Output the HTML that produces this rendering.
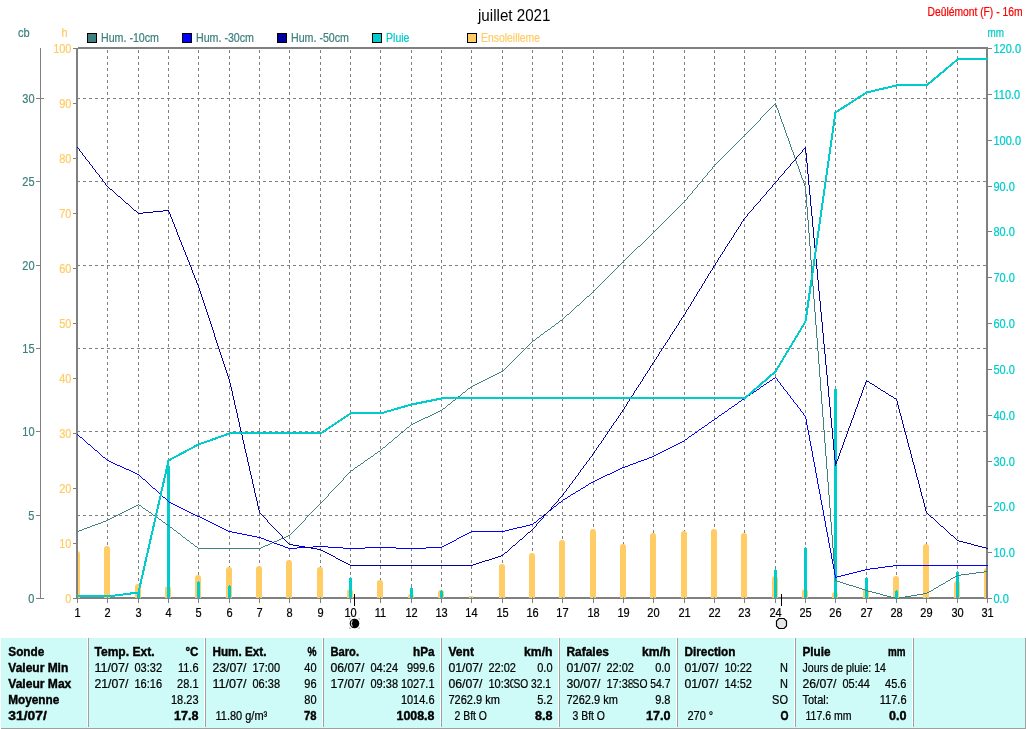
<!DOCTYPE html>
<html><head><meta charset="utf-8"><title>juillet 2021</title>
<style>html,body{margin:0;padding:0;background:#fff;overflow:hidden}svg{will-change:transform}svg text{white-space:pre}svg text{fill:currentColor}.r{stroke:currentColor;stroke-width:.2px}.b{stroke:currentColor;stroke-width:.35px}</style></head>
<body>
<svg width="1026" height="729" viewBox="0 0 1026 729" style="display:block;font-family:'Liberation Sans',sans-serif;font-size:11px">
<rect width="1026" height="729" fill="#fff"/>
<defs><clipPath id="plot"><rect x="78" y="49" width="908" height="549"/></clipPath></defs>
<g shape-rendering="crispEdges" stroke="#808080" stroke-width="1" stroke-dasharray="3,3" fill="none">
<line x1="107.5" y1="599" x2="107.5" y2="49"/>
<line x1="138.5" y1="599" x2="138.5" y2="49"/>
<line x1="168.5" y1="599" x2="168.5" y2="49"/>
<line x1="198.5" y1="599" x2="198.5" y2="49"/>
<line x1="229.5" y1="599" x2="229.5" y2="49"/>
<line x1="259.5" y1="599" x2="259.5" y2="49"/>
<line x1="289.5" y1="599" x2="289.5" y2="49"/>
<line x1="320.5" y1="599" x2="320.5" y2="49"/>
<line x1="350.5" y1="599" x2="350.5" y2="49"/>
<line x1="380.5" y1="599" x2="380.5" y2="49"/>
<line x1="411.5" y1="599" x2="411.5" y2="49"/>
<line x1="441.5" y1="599" x2="441.5" y2="49"/>
<line x1="471.5" y1="599" x2="471.5" y2="49"/>
<line x1="502.5" y1="599" x2="502.5" y2="49"/>
<line x1="532.5" y1="599" x2="532.5" y2="49"/>
<line x1="562.5" y1="599" x2="562.5" y2="49"/>
<line x1="593.5" y1="599" x2="593.5" y2="49"/>
<line x1="623.5" y1="599" x2="623.5" y2="49"/>
<line x1="653.5" y1="599" x2="653.5" y2="49"/>
<line x1="684.5" y1="599" x2="684.5" y2="49"/>
<line x1="714.5" y1="599" x2="714.5" y2="49"/>
<line x1="744.5" y1="599" x2="744.5" y2="49"/>
<line x1="775.5" y1="599" x2="775.5" y2="49"/>
<line x1="805.5" y1="599" x2="805.5" y2="49"/>
<line x1="835.5" y1="599" x2="835.5" y2="49"/>
<line x1="866.5" y1="599" x2="866.5" y2="49"/>
<line x1="896.5" y1="599" x2="896.5" y2="49"/>
<line x1="926.5" y1="599" x2="926.5" y2="49"/>
<line x1="957.5" y1="599" x2="957.5" y2="49"/>
<line x1="77" y1="515.5" x2="986" y2="515.5"/>
<line x1="77" y1="431.5" x2="986" y2="431.5"/>
<line x1="77" y1="348.5" x2="986" y2="348.5"/>
<line x1="77" y1="265.5" x2="986" y2="265.5"/>
<line x1="77" y1="181.5" x2="986" y2="181.5"/>
<line x1="77" y1="98.5" x2="986" y2="98.5"/>
</g>
<g fill="#808080" shape-rendering="crispEdges">
<rect x="78" y="47" width="910" height="1"/><rect x="76" y="48" width="912" height="1"/><rect x="76" y="597" width="912" height="2"/>
<rect x="76" y="48" width="2" height="551"/><rect x="986" y="47" width="2" height="552"/>
<rect x="40" y="48" width="1" height="551"/>
<rect x="36" y="598" width="8" height="1"/>
<rect x="36" y="515" width="4" height="1"/>
<rect x="36" y="431" width="4" height="1"/>
<rect x="36" y="348" width="4" height="1"/>
<rect x="36" y="265" width="4" height="1"/>
<rect x="36" y="181" width="4" height="1"/>
<rect x="36" y="98" width="8" height="1"/>
<rect x="73" y="598" width="3" height="1"/>
<rect x="73" y="543" width="3" height="1"/>
<rect x="73" y="488" width="3" height="1"/>
<rect x="73" y="433" width="3" height="1"/>
<rect x="73" y="378" width="3" height="1"/>
<rect x="73" y="323" width="3" height="1"/>
<rect x="73" y="268" width="3" height="1"/>
<rect x="73" y="213" width="3" height="1"/>
<rect x="73" y="158" width="3" height="1"/>
<rect x="73" y="103" width="3" height="1"/>
<rect x="73" y="48" width="3" height="1"/>
<rect x="988" y="598" width="4" height="1"/>
<rect x="988" y="552" width="4" height="1"/>
<rect x="988" y="506" width="4" height="1"/>
<rect x="988" y="461" width="4" height="1"/>
<rect x="988" y="415" width="4" height="1"/>
<rect x="988" y="369" width="4" height="1"/>
<rect x="988" y="323" width="4" height="1"/>
<rect x="988" y="277" width="4" height="1"/>
<rect x="988" y="231" width="4" height="1"/>
<rect x="988" y="186" width="4" height="1"/>
<rect x="988" y="140" width="4" height="1"/>
<rect x="988" y="94" width="4" height="1"/>
<rect x="988" y="48" width="4" height="1"/>
<rect x="77" y="599" width="1" height="4"/>
<rect x="107" y="599" width="1" height="4"/>
<rect x="138" y="599" width="1" height="4"/>
<rect x="168" y="599" width="1" height="4"/>
<rect x="198" y="599" width="1" height="4"/>
<rect x="229" y="599" width="1" height="4"/>
<rect x="259" y="599" width="1" height="4"/>
<rect x="289" y="599" width="1" height="4"/>
<rect x="320" y="599" width="1" height="4"/>
<rect x="350" y="599" width="1" height="4"/>
<rect x="380" y="599" width="1" height="4"/>
<rect x="411" y="599" width="1" height="4"/>
<rect x="441" y="599" width="1" height="4"/>
<rect x="471" y="599" width="1" height="4"/>
<rect x="502" y="599" width="1" height="4"/>
<rect x="532" y="599" width="1" height="4"/>
<rect x="562" y="599" width="1" height="4"/>
<rect x="593" y="599" width="1" height="4"/>
<rect x="623" y="599" width="1" height="4"/>
<rect x="653" y="599" width="1" height="4"/>
<rect x="684" y="599" width="1" height="4"/>
<rect x="714" y="599" width="1" height="4"/>
<rect x="744" y="599" width="1" height="4"/>
<rect x="775" y="599" width="1" height="4"/>
<rect x="805" y="599" width="1" height="4"/>
<rect x="835" y="599" width="1" height="4"/>
<rect x="866" y="599" width="1" height="4"/>
<rect x="896" y="599" width="1" height="4"/>
<rect x="926" y="599" width="1" height="4"/>
<rect x="957" y="599" width="1" height="4"/>
<rect x="987" y="599" width="1" height="4"/>
</g>
<g clip-path="url(#plot)" fill="#ffcc66">
<path d="M74 598V554Q74 551 77 551Q80 551 80 554V598Z"/>
<path d="M104 598V549Q104 546 107 546Q110 546 110 549V598Z"/>
<path d="M135 598V587Q135 584 138 584Q141 584 141 587V598Z"/>
<path d="M165 598V589Q165 586 168 586Q171 586 171 589V598Z"/>
<path d="M195 598V578Q195 575 198 575Q201 575 201 578V598Z"/>
<path d="M226 598V570Q226 567 229 567Q232 567 232 570V598Z"/>
<path d="M256 598V569Q256 566 259 566Q262 566 262 569V598Z"/>
<path d="M286 598V563Q286 560 289 560Q292 560 292 563V598Z"/>
<path d="M317 598V570Q317 567 320 567Q323 567 323 570V598Z"/>
<path d="M347 598V592Q347 589 350 589Q353 589 353 592V598Z"/>
<path d="M377 598V583Q377 580 380 580Q383 580 383 583V598Z"/>
<path d="M408 598V597Q408 594 411 594Q414 594 414 597V598Z"/>
<path d="M438 598V593Q438 590 441 590Q444 590 444 593V598Z"/>
<rect x="469" y="596" width="4" height="2" shape-rendering="crispEdges"/>
<path d="M499 598V567Q499 564 502 564Q505 564 505 567V598Z"/>
<path d="M529 598V556Q529 553 532 553Q535 553 535 556V598Z"/>
<path d="M559 598V543Q559 540 562 540Q565 540 565 543V598Z"/>
<path d="M590 598V532Q590 529 593 529Q596 529 596 532V598Z"/>
<path d="M620 598V547Q620 544 623 544Q626 544 626 547V598Z"/>
<path d="M650 598V536Q650 533 653 533Q656 533 656 536V598Z"/>
<path d="M681 598V534Q681 531 684 531Q687 531 687 534V598Z"/>
<path d="M711 598V532Q711 529 714 529Q717 529 717 532V598Z"/>
<path d="M741 598V536Q741 533 744 533Q747 533 747 536V598Z"/>
<path d="M772 598V579Q772 576 775 576Q778 576 778 579V598Z"/>
<path d="M802 598V592Q802 589 805 589Q808 589 808 592V598Z"/>
<path d="M832 598V595Q832 592 835 592Q838 592 838 595V598Z"/>
<path d="M863 598V592Q863 589 866 589Q869 589 869 592V598Z"/>
<path d="M893 598V579Q893 576 896 576Q899 576 899 579V598Z"/>
<path d="M923 598V547Q923 544 926 544Q929 544 929 547V598Z"/>
<path d="M954 598V584Q954 581 957 581Q960 581 960 584V598Z"/>
<path d="M984 598V571Q984 568 987 568Q990 568 990 571V598Z"/>
</g>
<g fill="#00cccc" shape-rendering="crispEdges">
<rect x="137" y="592" width="3" height="6"/><rect x="138" y="591" width="1" height="1"/>
<rect x="167" y="466" width="3" height="132"/><rect x="168" y="465" width="1" height="1"/>
<rect x="197" y="582" width="3" height="16"/><rect x="198" y="581" width="1" height="1"/>
<rect x="228" y="586" width="3" height="12"/><rect x="229" y="585" width="1" height="1"/>
<rect x="349" y="578" width="3" height="20"/><rect x="350" y="577" width="1" height="1"/>
<rect x="410" y="588" width="3" height="10"/><rect x="411" y="587" width="1" height="1"/>
<rect x="440" y="591" width="3" height="7"/><rect x="441" y="590" width="1" height="1"/>
<rect x="774" y="570" width="3" height="28"/><rect x="775" y="569" width="1" height="1"/>
<rect x="804" y="548" width="3" height="50"/><rect x="805" y="547" width="1" height="1"/>
<rect x="834" y="389" width="3" height="209"/><rect x="835" y="388" width="1" height="1"/>
<rect x="865" y="578" width="3" height="20"/><rect x="866" y="577" width="1" height="1"/>
<rect x="895" y="591" width="3" height="7"/><rect x="896" y="590" width="1" height="1"/>
<rect x="956" y="572" width="3" height="26"/><rect x="957" y="571" width="1" height="1"/>
</g>
<g fill="#00cccc" shape-rendering="crispEdges">
<rect x="107" y="597" width="1" height="1"/>
<rect x="138" y="597" width="1" height="1"/>
<rect x="168" y="597" width="1" height="1"/>
<rect x="198" y="597" width="1" height="1"/>
<rect x="229" y="597" width="1" height="1"/>
<rect x="259" y="597" width="1" height="1"/>
<rect x="289" y="597" width="1" height="1"/>
<rect x="320" y="597" width="1" height="1"/>
<rect x="350" y="597" width="1" height="1"/>
<rect x="380" y="597" width="1" height="1"/>
<rect x="411" y="597" width="1" height="1"/>
<rect x="441" y="597" width="1" height="1"/>
<rect x="471" y="597" width="1" height="1"/>
<rect x="502" y="597" width="1" height="1"/>
<rect x="532" y="597" width="1" height="1"/>
<rect x="562" y="597" width="1" height="1"/>
<rect x="593" y="597" width="1" height="1"/>
<rect x="623" y="597" width="1" height="1"/>
<rect x="653" y="597" width="1" height="1"/>
<rect x="684" y="597" width="1" height="1"/>
<rect x="714" y="597" width="1" height="1"/>
<rect x="744" y="597" width="1" height="1"/>
<rect x="775" y="597" width="1" height="1"/>
<rect x="805" y="597" width="1" height="1"/>
<rect x="835" y="597" width="1" height="1"/>
<rect x="866" y="597" width="1" height="1"/>
<rect x="896" y="597" width="1" height="1"/>
<rect x="926" y="597" width="1" height="1"/>
<rect x="957" y="597" width="1" height="1"/>
</g>
<path d="M77 531.5h2M79 530.5h3M82 529.5h2M84 528.5h3M87 527.5h3M90 526.5h2M92 525.5h3M95 524.5h3M98 523.5h3M101 522.5h2M103 521.5h3M106 520.5h2M108 519.5h2M110 518.5h2M112 517.5h2M114 516.5h2M116 515.5h2M118 514.5h2M120 513.5h2M122 512.5h2M124 511.5h2M126 510.5h2M128 509.5h2M130 508.5h2M132 507.5h2M134 506.5h2M136 505.5h2M138 504.5h1M139 505.5h2M141 506.5h1M142 507.5h1M143 508.5h2M145 509.5h1M146 510.5h2M148 511.5h1M149 512.5h2M151 513.5h1M152 514.5h1M153 515.5h2M155 516.5h1M156 517.5h2M158 518.5h1M159 519.5h2M161 520.5h1M162 521.5h1M163 522.5h2M165 523.5h1M166 524.5h2M168 525.5h1M169 526.5h1M170 527.5h2M172 528.5h1M173 529.5h1M174 530.5h2M176 531.5h1M177 532.5h1M178 533.5h2M180 534.5h1M181 535.5h1M182 536.5h1M183 537.5h2M185 538.5h1M186 539.5h1M187 540.5h2M189 541.5h1M190 542.5h1M191 543.5h2M193 544.5h1M194 545.5h1M195 546.5h2M197 547.5h1M198 548.5h63M261 547.5h2M263 546.5h2M265 545.5h3M268 544.5h2M270 543.5h2M272 542.5h2M274 541.5h3M277 540.5h2M279 539.5h2M281 538.5h3M284 537.5h2M286 536.5h2M288 535.5h2M290 534.5h1M291 533.5h1M292 532.5h1M293 531.5h1M294 530.5h1M295 529.5h1M296 528.5h1M297 527.5h1M298 526.5h1M299 525.5h1M300 524.5h1M301 523.5h1M302 522.5h1M303 521.5h1M304 520.5h1M305.5 518v2M306 517.5h1M307 516.5h1M308 515.5h1M309 514.5h1M310 513.5h1M311 512.5h1M312 511.5h1M313 510.5h1M314 509.5h1M315 508.5h1M316 507.5h1M317 506.5h1M318 505.5h1M319 504.5h1M320 503.5h1M321 502.5h1M322 501.5h1M323 500.5h1M324 499.5h1M325 498.5h1M326 497.5h1M327 496.5h1M328.5 494v2M329 493.5h1M330 492.5h1M331 491.5h1M332 490.5h1M333 489.5h1M334 488.5h1M335 487.5h1M336 486.5h1M337 485.5h1M338 484.5h1M339 483.5h1M340 482.5h1M341 481.5h1M342 480.5h1M343.5 478v2M344 477.5h1M345 476.5h1M346 475.5h1M347 474.5h1M348 473.5h1M349 472.5h1M350 471.5h1M351 470.5h2M353 469.5h1M354 468.5h1M355 467.5h2M357 466.5h1M358 465.5h2M360 464.5h1M361 463.5h2M363 462.5h1M364 461.5h1M365 460.5h2M367 459.5h1M368 458.5h2M370 457.5h1M371 456.5h2M373 455.5h1M374 454.5h1M375 453.5h2M377 452.5h1M378 451.5h2M380 450.5h1M381 449.5h1M382 448.5h1M383 447.5h2M385 446.5h1M386 445.5h1M387 444.5h1M388 443.5h1M389 442.5h2M391 441.5h1M392 440.5h1M393 439.5h1M394 438.5h1M395 437.5h2M397 436.5h1M398 435.5h1M399 434.5h1M400 433.5h1M401 432.5h2M403 431.5h1M404 430.5h1M405 429.5h1M406 428.5h1M407 427.5h2M409 426.5h1M410 425.5h1M411 424.5h2M413 423.5h2M415 422.5h2M417 421.5h2M419 420.5h2M421 419.5h2M423 418.5h2M425 417.5h3M428 416.5h2M430 415.5h2M432 414.5h2M434 413.5h2M436 412.5h2M438 411.5h2M440 410.5h2M442 409.5h1M443 408.5h2M445 407.5h1M446 406.5h1M447 405.5h1M448 404.5h2M450 403.5h1M451 402.5h1M452 401.5h1M453 400.5h2M455 399.5h1M456 398.5h1M457 397.5h1M458 396.5h2M460 395.5h1M461 394.5h1M462 393.5h1M463 392.5h2M465 391.5h1M466 390.5h1M467 389.5h1M468 388.5h2M470 387.5h1M471 386.5h2M473 385.5h2M475 384.5h2M477 383.5h2M479 382.5h2M481 381.5h2M483 380.5h2M485 379.5h2M487 378.5h2M489 377.5h2M491 376.5h2M493 375.5h2M495 374.5h2M497 373.5h2M499 372.5h2M501 371.5h2M503 370.5h1M504 369.5h1M505 368.5h1M506 367.5h1M507 366.5h1M508 365.5h1M509 364.5h1M510 363.5h1M511 362.5h1M512 361.5h1M513 360.5h1M514 359.5h1M515 358.5h1M516 357.5h1M517 356.5h1M518 355.5h1M519 354.5h1M520 353.5h1M521 352.5h1M522 351.5h1M523 350.5h1M524 349.5h1M525 348.5h1M526 347.5h1M527 346.5h1M528 345.5h1M529 344.5h1M530 343.5h1M531 342.5h1M532 341.5h1M533 340.5h2M535 339.5h1M536 338.5h1M537 337.5h2M539 336.5h1M540 335.5h1M541 334.5h2M543 333.5h1M544 332.5h1M545 331.5h2M547 330.5h1M548 329.5h2M550 328.5h1M551 327.5h1M552 326.5h2M554 325.5h1M555 324.5h1M556 323.5h2M558 322.5h1M559 321.5h1M560 320.5h2M562 319.5h1M563 318.5h1M564 317.5h1M565 316.5h1M566 315.5h1M567 314.5h2M569 313.5h1M570 312.5h1M571 311.5h1M572 310.5h1M573 309.5h1M574 308.5h1M575 307.5h1M576 306.5h1M577 305.5h2M579 304.5h1M580 303.5h1M581 302.5h1M582 301.5h1M583 300.5h1M584 299.5h1M585 298.5h1M586 297.5h1M587 296.5h2M589 295.5h1M590 294.5h1M591 293.5h1M592 292.5h1M593 291.5h1M594 290.5h1M595 289.5h1M596 288.5h1M597 287.5h1M598 286.5h1M599 285.5h1M600 284.5h1M601 283.5h1M602 282.5h1M603 281.5h1M604 280.5h1M605 279.5h1M606 278.5h1M607 277.5h1M608 276.5h1M609 275.5h1M610 274.5h1M611 273.5h1M612 272.5h1M613 271.5h1M614 270.5h1M615 269.5h1M616 268.5h1M617 267.5h1M618 266.5h1M619 265.5h1M620 264.5h1M621 263.5h1M622 262.5h1M623 261.5h1M624 260.5h1M625 259.5h1M626 258.5h1M627 257.5h1M628 256.5h1M629 255.5h1M630 254.5h1M631 253.5h1M632 252.5h1M633 251.5h1M634 250.5h1M635 249.5h1M636 248.5h1M637 247.5h1M638 246.5h2M640 245.5h1M641 244.5h1M642 243.5h1M643 242.5h1M644 241.5h1M645 240.5h1M646 239.5h1M647 238.5h1M648 237.5h1M649 236.5h1M650 235.5h1M651 234.5h1M652 233.5h1M653 232.5h1M654 231.5h1M655 230.5h1M656 229.5h1M657 228.5h1M658 227.5h1M659 226.5h1M660 225.5h1M661 224.5h1M662 223.5h1M663 222.5h1M664 221.5h1M665 220.5h1M666 219.5h1M667 218.5h1M668 217.5h1M669 216.5h1M670 215.5h1M671 214.5h1M672 213.5h1M673 212.5h1M674 211.5h1M675 210.5h1M676 209.5h1M677 208.5h1M678 207.5h1M679 206.5h1M680 205.5h1M681 204.5h1M682 203.5h1M683 202.5h1M684 201.5h1M685 200.5h1M686 199.5h1M687.5 197v2M688 196.5h1M689 195.5h1M690 194.5h1M691 193.5h1M692.5 191v2M693 190.5h1M694 189.5h1M695 188.5h1M696 187.5h1M697.5 185v2M698 184.5h1M699 183.5h1M700 182.5h1M701 181.5h1M702.5 179v2M703 178.5h1M704 177.5h1M705 176.5h1M706 175.5h1M707.5 173v2M708 172.5h1M709 171.5h1M710 170.5h1M711 169.5h1M712.5 167v2M713 166.5h1M714 165.5h1M715 164.5h1M716 163.5h1M717 162.5h1M718 161.5h1M719 160.5h1M720 159.5h1M721 158.5h1M722 157.5h1M723 156.5h1M724 155.5h1M725 154.5h1M726 153.5h1M727 152.5h1M728 151.5h1M729 150.5h1M730 149.5h1M731 148.5h1M732 147.5h1M733 146.5h1M734 145.5h1M735 144.5h1M736 143.5h1M737 142.5h1M738 141.5h1M739 140.5h1M740 139.5h1M741 138.5h1M742 137.5h1M743 136.5h1M744 135.5h1M745 134.5h1M746 133.5h1M747 132.5h1M748 131.5h1M749 130.5h1M750 129.5h1M751 128.5h1M752 127.5h1M753 126.5h1M754 125.5h1M755 124.5h1M756 123.5h1M757 122.5h1M758 121.5h1M759 120.5h1M760.5 118v2M761 117.5h1M762 116.5h1M763 115.5h1M764 114.5h1M765 113.5h1M766 112.5h1M767 111.5h1M768 110.5h1M769 109.5h1M770 108.5h1M771 107.5h1M772 106.5h1M773 105.5h1M774 104.5h1M775.5 103v2M776.5 105v3M777.5 108v2M778.5 110v3M779.5 113v3M780.5 116v3M781.5 119v3M782.5 122v2M783.5 124v3M784.5 127v3M785.5 130v3M786.5 133v3M787.5 136v2M788.5 138v3M789.5 141v3M790.5 144v3M791.5 147v3M792.5 150v2M793.5 152v3M794.5 155v3M795.5 158v3M796.5 161v3M797.5 164v2M798.5 166v3M799.5 169v3M800.5 172v3M801.5 175v3M802.5 178v2M803.5 180v3M804.5 183v3M805.5 186v8M806.5 194v13M807.5 207v13M808.5 220v13M809.5 233v13M810.5 246v14M811.5 260v13M812.5 273v13M813.5 286v13M814.5 299v13M815.5 312v13M816.5 325v13M817.5 338v13M818.5 351v13M819.5 364v13M820.5 377v14M821.5 391v13M822.5 404v13M823.5 417v13M824.5 430v13M825.5 443v13M826.5 456v13M827.5 469v13M828.5 482v13M829.5 495v13M830.5 508v14M831.5 522v13M832.5 535v13M833.5 548v13M834.5 561v13M835.5 574v7M836 580.5h1M837 581.5h3M840 582.5h3M843 583.5h3M846 584.5h3M849 585.5h4M853 586.5h3M856 587.5h3M859 588.5h3M862 589.5h3M865 590.5h3M868 591.5h4M872 592.5h4M876 593.5h4M880 594.5h3M883 595.5h4M887 596.5h4M891 597.5h4M895 598.5h4M899 597.5h6M905 596.5h6M911 595.5h6M917 594.5h6M923 593.5h4M927 592.5h2M929 591.5h2M931 590.5h2M933 589.5h1M934 588.5h2M936 587.5h2M938 586.5h1M939 585.5h2M941 584.5h2M943 583.5h2M945 582.5h1M946 581.5h2M948 580.5h2M950 579.5h1M951 578.5h2M953 577.5h2M955 576.5h2M957 575.5h4M961 574.5h8M969 573.5h7M976 572.5h8M984 571.5h4" fill="none" stroke="#408080" stroke-width="1" shape-rendering="crispEdges"/>
<path d="M77 434.5h1M78 435.5h1M79 436.5h1M80 437.5h2M82 438.5h1M83 439.5h1M84 440.5h1M85 441.5h1M86 442.5h1M87 443.5h1M88 444.5h2M90 445.5h1M91 446.5h1M92 447.5h1M93 448.5h1M94 449.5h1M95 450.5h2M97 451.5h1M98 452.5h1M99 453.5h1M100 454.5h1M101 455.5h1M102 456.5h1M103 457.5h2M105 458.5h1M106 459.5h1M107 460.5h2M109 461.5h2M111 462.5h2M113 463.5h2M115 464.5h2M117 465.5h3M120 466.5h2M122 467.5h2M124 468.5h2M126 469.5h3M129 470.5h2M131 471.5h2M133 472.5h2M135 473.5h2M137 474.5h2M139 475.5h1M140 476.5h1M141 477.5h1M142 478.5h1M143 479.5h2M145 480.5h1M146 481.5h1M147 482.5h1M148 483.5h1M149 484.5h1M150 485.5h1M151 486.5h1M152 487.5h1M153 488.5h2M155 489.5h1M156 490.5h1M157 491.5h1M158 492.5h1M159 493.5h1M160 494.5h1M161 495.5h1M162 496.5h1M163 497.5h2M165 498.5h1M166 499.5h1M167 500.5h1M168 501.5h1M169 502.5h2M171 503.5h2M173 504.5h2M175 505.5h2M177 506.5h2M179 507.5h2M181 508.5h2M183 509.5h2M185 510.5h2M187 511.5h2M189 512.5h2M191 513.5h2M193 514.5h2M195 515.5h2M197 516.5h3M200 517.5h2M202 518.5h2M204 519.5h2M206 520.5h2M208 521.5h2M210 522.5h2M212 523.5h2M214 524.5h2M216 525.5h2M218 526.5h2M220 527.5h2M222 528.5h2M224 529.5h2M226 530.5h2M228 531.5h4M232 532.5h5M237 533.5h5M242 534.5h5M247 535.5h5M252 536.5h5M257 537.5h4M261 538.5h3M264 539.5h2M266 540.5h3M269 541.5h3M272 542.5h2M274 543.5h3M277 544.5h3M280 545.5h3M283 546.5h2M285 547.5h3M288 548.5h9M297 547.5h16M313 546.5h15M328 547.5h15M343 548.5h22M365 547.5h31M396 548.5h30M426 547.5h16M442 546.5h2M444 545.5h2M446 544.5h2M448 543.5h2M450 542.5h2M452 541.5h2M454 540.5h2M456 539.5h1M457 538.5h2M459 537.5h2M461 536.5h2M463 535.5h2M465 534.5h2M467 533.5h2M469 532.5h2M471 531.5h34M505 530.5h4M509 529.5h4M513 528.5h4M517 527.5h5M522 526.5h4M526 525.5h4M530 524.5h3M533 523.5h1M534 522.5h2M536 521.5h1M537 520.5h1M538 519.5h1M539 518.5h2M541 517.5h1M542 516.5h1M543 515.5h1M544 514.5h2M546 513.5h1M547 512.5h1M548 511.5h1M549 510.5h2M551 509.5h1M552 508.5h1M553 507.5h1M554 506.5h2M556 505.5h1M557 504.5h1M558 503.5h1M559 502.5h2M561 501.5h1M562 500.5h1M563 499.5h2M565 498.5h2M567 497.5h1M568 496.5h2M570 495.5h1M571 494.5h2M573 493.5h2M575 492.5h1M576 491.5h2M578 490.5h2M580 489.5h1M581 488.5h2M583 487.5h2M585 486.5h1M586 485.5h2M588 484.5h1M589 483.5h2M591 482.5h2M593 481.5h2M595 480.5h2M597 479.5h2M599 478.5h2M601 477.5h2M603 476.5h2M605 475.5h2M607 474.5h3M610 473.5h2M612 472.5h2M614 471.5h2M616 470.5h2M618 469.5h2M620 468.5h2M622 467.5h3M625 466.5h3M628 465.5h2M630 464.5h3M633 463.5h3M636 462.5h2M638 461.5h3M641 460.5h3M644 459.5h3M647 458.5h2M649 457.5h3M652 456.5h2M654 455.5h2M656 454.5h2M658 453.5h2M660 452.5h2M662 451.5h2M664 450.5h2M666 449.5h2M668 448.5h2M670 447.5h2M672 446.5h2M674 445.5h2M676 444.5h2M678 443.5h2M680 442.5h2M682 441.5h2M684 440.5h1M685 439.5h2M687 438.5h1M688 437.5h1M689 436.5h2M691 435.5h1M692 434.5h2M694 433.5h1M695 432.5h2M697 431.5h1M698 430.5h1M699 429.5h2M701 428.5h1M702 427.5h2M704 426.5h1M705 425.5h2M707 424.5h1M708 423.5h1M709 422.5h2M711 421.5h1M712 420.5h2M714 419.5h1M715 418.5h2M717 417.5h1M718 416.5h1M719 415.5h2M721 414.5h1M722 413.5h2M724 412.5h1M725 411.5h2M727 410.5h1M728 409.5h1M729 408.5h2M731 407.5h1M732 406.5h2M734 405.5h1M735 404.5h2M737 403.5h1M738 402.5h1M739 401.5h2M741 400.5h1M742 399.5h2M744 398.5h1M745 397.5h2M747 396.5h1M748 395.5h2M750 394.5h1M751 393.5h2M753 392.5h1M754 391.5h2M756 390.5h1M757 389.5h2M759 388.5h1M760 387.5h1M761 386.5h2M763 385.5h1M764 384.5h2M766 383.5h1M767 382.5h2M769 381.5h1M770 380.5h2M772 379.5h1M773 378.5h2M775 377.5h1M776 378.5h1M777.5 379v2M778 381.5h1M779 382.5h1M780.5 383v2M781 385.5h1M782 386.5h1M783.5 387v2M784 389.5h1M785 390.5h1M786 391.5h1M787.5 392v2M788 394.5h1M789 395.5h1M790.5 396v2M791 398.5h1M792 399.5h1M793.5 400v2M794 402.5h1M795 403.5h1M796 404.5h1M797.5 405v2M798 407.5h1M799 408.5h1M800.5 409v2M801 411.5h1M802 412.5h1M803.5 413v2M804 415.5h1M805.5 416v3M806.5 419v6M807.5 425v5M808.5 430v5M809.5 435v6M810.5 441v5M811.5 446v5M812.5 451v6M813.5 457v5M814.5 462v5M815.5 467v6M816.5 473v5M817.5 478v6M818.5 484v5M819.5 489v5M820.5 494v6M821.5 500v5M822.5 505v5M823.5 510v6M824.5 516v5M825.5 521v6M826.5 527v5M827.5 532v5M828.5 537v6M829.5 543v5M830.5 548v5M831.5 553v6M832.5 559v5M833.5 564v5M834.5 569v6M835.5 575v3M836 577.5h1M837 576.5h4M841 575.5h4M845 574.5h4M849 573.5h4M853 572.5h4M857 571.5h4M861 570.5h4M865 569.5h5M870 568.5h8M878 567.5h7M885 566.5h8M893 565.5h95" fill="none" stroke="#0000ff" stroke-width="1" shape-rendering="crispEdges"/>
<path d="M77 147.5h1M78 148.5h1M79.5 149v2M80 151.5h1M81 152.5h1M82.5 153v2M83 155.5h1M84 156.5h1M85.5 157v2M86 159.5h1M87 160.5h1M88 161.5h1M89.5 162v2M90 164.5h1M91 165.5h1M92.5 166v2M93 168.5h1M94 169.5h1M95.5 170v2M96 172.5h1M97 173.5h1M98 174.5h1M99.5 175v2M100 177.5h1M101 178.5h1M102.5 179v2M103 181.5h1M104 182.5h1M105.5 183v2M106 185.5h1M107 186.5h1M108 187.5h1M109 188.5h1M110 189.5h2M112 190.5h1M113 191.5h1M114 192.5h1M115 193.5h1M116 194.5h1M117 195.5h1M118 196.5h2M120 197.5h1M121 198.5h1M122 199.5h1M123 200.5h1M124 201.5h1M125 202.5h1M126 203.5h2M128 204.5h1M129 205.5h1M130 206.5h1M131 207.5h1M132 208.5h1M133 209.5h1M134 210.5h2M136 211.5h1M137 212.5h1M138 213.5h5M143 212.5h10M153 211.5h10M163 210.5h6M168 211.5h1M169.5 212v2M170.5 214v3M171.5 217v2M172.5 219v3M173.5 222v2M174.5 224v3M175.5 227v2M176.5 229v3M177.5 232v3M178.5 235v2M179.5 237v3M180.5 240v2M181.5 242v3M182.5 245v2M183.5 247v3M184.5 250v2M185.5 252v3M186.5 255v2M187.5 257v3M188.5 260v2M189.5 262v3M190.5 265v2M191.5 267v3M192.5 270v3M193.5 273v2M194.5 275v3M195.5 278v2M196.5 280v3M197.5 283v2M198.5 285v3M199.5 288v3M200.5 291v3M201.5 294v3M202.5 297v3M203.5 300v3M204.5 303v3M205.5 306v3M206.5 309v3M207.5 312v3M208.5 315v3M209.5 318v3M210.5 321v3M211.5 324v3M212.5 327v3M213.5 330v3M214.5 333v4M215.5 337v3M216.5 340v3M217.5 343v3M218.5 346v3M219.5 349v3M220.5 352v3M221.5 355v3M222.5 358v3M223.5 361v3M224.5 364v3M225.5 367v3M226.5 370v3M227.5 373v3M228.5 376v3M229.5 379v4M230.5 383v4M231.5 387v4M232.5 391v5M233.5 396v4M234.5 400v5M235.5 405v4M236.5 409v4M237.5 413v5M238.5 418v4M239.5 422v5M240.5 427v4M241.5 431v4M242.5 435v5M243.5 440v4M244.5 444v5M245.5 449v4M246.5 453v4M247.5 457v5M248.5 462v4M249.5 466v5M250.5 471v4M251.5 475v4M252.5 479v5M253.5 484v4M254.5 488v5M255.5 493v4M256.5 497v4M257.5 501v5M258.5 506v4M259.5 510v3M260 513.5h1M261 514.5h1M262 515.5h1M263 516.5h1M264 517.5h1M265 518.5h1M266 519.5h1M267.5 520v2M268 522.5h1M269 523.5h1M270 524.5h1M271 525.5h1M272 526.5h1M273 527.5h1M274 528.5h1M275 529.5h1M276 530.5h1M277 531.5h1M278 532.5h1M279 533.5h1M280 534.5h1M281 535.5h1M282.5 536v2M283 538.5h1M284 539.5h1M285 540.5h1M286 541.5h1M287 542.5h1M288 543.5h1M289 544.5h4M293 545.5h6M299 546.5h6M305 547.5h6M311 548.5h6M317 549.5h4M321 550.5h2M323 551.5h2M325 552.5h2M327 553.5h2M329 554.5h2M331 555.5h2M333 556.5h2M335 557.5h1M336 558.5h2M338 559.5h2M340 560.5h2M342 561.5h2M344 562.5h2M346 563.5h2M348 564.5h2M350 565.5h123M473 564.5h3M476 563.5h3M479 562.5h3M482 561.5h3M485 560.5h4M489 559.5h3M492 558.5h3M495 557.5h3M498 556.5h3M501 555.5h2M503 554.5h1M504 553.5h1M505 552.5h2M507 551.5h1M508 550.5h1M509 549.5h1M510 548.5h1M511 547.5h1M512 546.5h1M513 545.5h2M515 544.5h1M516 543.5h1M517 542.5h1M518 541.5h1M519 540.5h1M520 539.5h2M522 538.5h1M523 537.5h1M524 536.5h1M525 535.5h1M526 534.5h1M527 533.5h1M528 532.5h2M530 531.5h1M531 530.5h1M532 529.5h1M533 528.5h1M534 527.5h1M535 526.5h1M536.5 524v2M537 523.5h1M538 522.5h1M539 521.5h1M540 520.5h1M541 519.5h1M542 518.5h1M543.5 516v2M544 515.5h1M545 514.5h1M546 513.5h1M547 512.5h1M548 511.5h1M549 510.5h1M550 509.5h1M551.5 507v2M552 506.5h1M553 505.5h1M554 504.5h1M555 503.5h1M556 502.5h1M557 501.5h1M558.5 499v2M559 498.5h1M560 497.5h1M561 496.5h1M562 495.5h1M563.5 493v2M564 492.5h1M565 491.5h1M566.5 489v2M567 488.5h1M568 487.5h1M569.5 485v2M570 484.5h1M571 483.5h1M572.5 481v2M573 480.5h1M574 479.5h1M575.5 477v2M576 476.5h1M577 475.5h1M578.5 473v2M579 472.5h1M580.5 470v2M581 469.5h1M582 468.5h1M583.5 466v2M584 465.5h1M585 464.5h1M586.5 462v2M587 461.5h1M588 460.5h1M589.5 458v2M590 457.5h1M591 456.5h1M592.5 454v2M593 453.5h1M594.5 451v2M595 450.5h1M596.5 448v2M597 447.5h1M598.5 445v2M599 444.5h1M600 443.5h1M601.5 441v2M602 440.5h1M603.5 438v2M604 437.5h1M605.5 435v2M606 434.5h1M607.5 432v2M608 431.5h1M609.5 429v2M610 428.5h1M611.5 426v2M612 425.5h1M613.5 423v2M614 422.5h1M615 421.5h1M616.5 419v2M617 418.5h1M618.5 416v2M619 415.5h1M620.5 413v2M621 412.5h1M622.5 410v2M623 409.5h1M624.5 407v2M625 406.5h1M626.5 404v2M627.5 402v2M628 401.5h1M629.5 399v2M630 398.5h1M631.5 396v2M632 395.5h1M633.5 393v2M634.5 391v2M635 390.5h1M636.5 388v2M637 387.5h1M638.5 385v2M639 384.5h1M640.5 382v2M641 381.5h1M642.5 379v2M643.5 377v2M644 376.5h1M645.5 374v2M646 373.5h1M647.5 371v2M648 370.5h1M649.5 368v2M650.5 366v2M651 365.5h1M652.5 363v2M653 362.5h1M654.5 360v2M655 359.5h1M656.5 357v2M657 356.5h1M658.5 354v2M659.5 352v2M660 351.5h1M661.5 349v2M662 348.5h1M663.5 346v2M664 345.5h1M665.5 343v2M666 342.5h1M667.5 340v2M668 339.5h1M669.5 337v2M670.5 335v2M671 334.5h1M672.5 332v2M673 331.5h1M674.5 329v2M675 328.5h1M676.5 326v2M677 325.5h1M678.5 323v2M679.5 321v2M680 320.5h1M681.5 318v2M682 317.5h1M683.5 315v2M684 314.5h1M685.5 312v2M686.5 310v2M687 309.5h1M688.5 307v2M689 306.5h1M690.5 304v2M691.5 302v2M692 301.5h1M693.5 299v2M694.5 297v2M695 296.5h1M696.5 294v2M697.5 292v2M698 291.5h1M699.5 289v2M700 288.5h1M701.5 286v2M702.5 284v2M703 283.5h1M704.5 281v2M705.5 279v2M706 278.5h1M707.5 276v2M708.5 274v2M709 273.5h1M710.5 271v2M711 270.5h1M712.5 268v2M713.5 266v2M714 265.5h1M715.5 263v2M716 262.5h1M717.5 260v2M718.5 258v2M719 257.5h1M720.5 255v2M721 254.5h1M722.5 252v2M723 251.5h1M724.5 249v2M725.5 247v2M726 246.5h1M727.5 244v2M728 243.5h1M729.5 241v2M730 240.5h1M731.5 238v2M732 237.5h1M733.5 235v2M734.5 233v2M735 232.5h1M736.5 230v2M737 229.5h1M738.5 227v2M739 226.5h1M740.5 224v2M741.5 222v2M742 221.5h1M743.5 219v2M744 218.5h1M745 217.5h1M746 216.5h1M747.5 214v2M748 213.5h1M749 212.5h1M750 211.5h1M751 210.5h1M752 209.5h1M753.5 207v2M754 206.5h1M755 205.5h1M756 204.5h1M757 203.5h1M758 202.5h1M759 201.5h1M760.5 199v2M761 198.5h1M762 197.5h1M763 196.5h1M764 195.5h1M765 194.5h1M766.5 192v2M767 191.5h1M768 190.5h1M769 189.5h1M770 188.5h1M771 187.5h1M772.5 185v2M773 184.5h1M774 183.5h1M775 182.5h1M776 181.5h1M777 180.5h1M778.5 178v2M779 177.5h1M780 176.5h1M781 175.5h1M782 174.5h1M783 173.5h1M784.5 171v2M785 170.5h1M786 169.5h1M787 168.5h1M788 167.5h1M789 166.5h1M790.5 164v2M791 163.5h1M792 162.5h1M793 161.5h1M794 160.5h1M795 159.5h1M796.5 157v2M797 156.5h1M798 155.5h1M799 154.5h1M800 153.5h1M801 152.5h1M802.5 150v2M803 149.5h1M804 148.5h1M805.5 147v6M806.5 153v10M807.5 163v11M808.5 174v11M809.5 185v10M810.5 195v11M811.5 206v10M812.5 216v11M813.5 227v11M814.5 238v10M815.5 248v11M816.5 259v10M817.5 269v11M818.5 280v11M819.5 291v10M820.5 301v11M821.5 312v10M822.5 322v11M823.5 333v11M824.5 344v10M825.5 354v11M826.5 365v10M827.5 375v11M828.5 386v11M829.5 397v10M830.5 407v11M831.5 418v10M832.5 428v11M833.5 439v11M834.5 450v10M835.5 460v6M835 464.5h1M836.5 461v3M837.5 459v2M838.5 456v3M839.5 453v3M840.5 450v3M841.5 448v2M842.5 445v3M843.5 442v3M844.5 439v3M845.5 437v2M846.5 434v3M847.5 431v3M848.5 428v3M849.5 426v2M850.5 423v3M851.5 420v3M852.5 418v2M853.5 415v3M854.5 412v3M855.5 409v3M856.5 407v2M857.5 404v3M858.5 401v3M859.5 398v3M860.5 396v2M861.5 393v3M862.5 390v3M863.5 387v3M864.5 385v2M865.5 382v3M866.5 380v2M867 381.5h2M869 382.5h1M870 383.5h2M872 384.5h2M874 385.5h1M875 386.5h2M877 387.5h1M878 388.5h2M880 389.5h1M881 390.5h2M883 391.5h2M885 392.5h1M886 393.5h2M888 394.5h1M889 395.5h2M891 396.5h2M893 397.5h1M894 398.5h2M896.5 399v2M897.5 401v4M898.5 405v4M899.5 409v4M900.5 413v3M901.5 416v4M902.5 420v4M903.5 424v4M904.5 428v4M905.5 432v3M906.5 435v4M907.5 439v4M908.5 443v4M909.5 447v3M910.5 450v4M911.5 454v4M912.5 458v4M913.5 462v3M914.5 465v4M915.5 469v4M916.5 473v4M917.5 477v3M918.5 480v4M919.5 484v4M920.5 488v4M921.5 492v4M922.5 496v3M923.5 499v4M924.5 503v4M925.5 507v4M926.5 511v2M927 513.5h1M928 514.5h1M929 515.5h1M930 516.5h1M931 517.5h2M933 518.5h1M934 519.5h1M935 520.5h1M936 521.5h1M937 522.5h1M938 523.5h1M939 524.5h1M940 525.5h1M941 526.5h2M943 527.5h1M944 528.5h1M945 529.5h1M946 530.5h1M947 531.5h1M948 532.5h1M949 533.5h1M950 534.5h1M951 535.5h2M953 536.5h1M954 537.5h1M955 538.5h1M956 539.5h1M957 540.5h2M959 541.5h4M963 542.5h4M967 543.5h4M971 544.5h3M974 545.5h4M978 546.5h4M982 547.5h4M986 548.5h2" fill="none" stroke="#0000a0" stroke-width="1" shape-rendering="crispEdges"/>
<polyline points="77.5,596.49 107.5,596.49 138.5,592.49 168.5,460.49 198.5,444.49 229.5,433.49 259.5,433.49 289.5,433.49 320.5,433.49 350.5,413.49 380.5,413.49 411.5,404.49 441.5,398.49 471.5,398.49 502.5,398.49 532.5,398.49 562.5,398.49 593.5,398.49 623.5,398.49 653.5,398.49 684.5,398.49 714.5,398.49 744.5,398.49 775.5,371.49 805.5,321.49 835.5,112.49 866.5,92.49 896.5,85.49 926.5,85.49 957.5,59.49 987.5,59.49" fill="none" stroke="#00cccc" stroke-width="2" shape-rendering="crispEdges" stroke-linejoin="round" stroke-linecap="round"/>
<g style="color:#408080" text-anchor="end">
<text x="34.5" y="603" class="r" transform="matrix(1 0 0 1.14 0 -84.42)">0</text>
<text x="34.5" y="520" class="r" transform="matrix(1 0 0 1.14 0 -72.80)">5</text>
<text x="34.5" y="436" class="r" transform="matrix(1 0 0 1.14 0 -61.04)">10</text>
<text x="34.5" y="353" class="r" transform="matrix(1 0 0 1.14 0 -49.42)">15</text>
<text x="34.5" y="270" class="r" transform="matrix(1 0 0 1.14 0 -37.80)">20</text>
<text x="34.5" y="186" class="r" transform="matrix(1 0 0 1.14 0 -26.04)">25</text>
<text x="34.5" y="103" class="r" transform="matrix(1 0 0 1.14 0 -14.42)">30</text>
</g>
<g style="color:#ffcc66" text-anchor="end">
<text x="71.5" y="603" class="r" transform="matrix(1 0 0 1.14 0 -84.42)">0</text>
<text x="71.5" y="548" class="r" transform="matrix(1 0 0 1.14 0 -76.72)">10</text>
<text x="71.5" y="493" class="r" transform="matrix(1 0 0 1.14 0 -69.02)">20</text>
<text x="71.5" y="438" class="r" transform="matrix(1 0 0 1.14 0 -61.32)">30</text>
<text x="71.5" y="383" class="r" transform="matrix(1 0 0 1.14 0 -53.62)">40</text>
<text x="71.5" y="328" class="r" transform="matrix(1 0 0 1.14 0 -45.92)">50</text>
<text x="71.5" y="273" class="r" transform="matrix(1 0 0 1.14 0 -38.22)">60</text>
<text x="71.5" y="218" class="r" transform="matrix(1 0 0 1.14 0 -30.52)">70</text>
<text x="71.5" y="163" class="r" transform="matrix(1 0 0 1.14 0 -22.82)">80</text>
<text x="71.5" y="108" class="r" transform="matrix(1 0 0 1.14 0 -15.12)">90</text>
<text x="71.5" y="53" class="r" transform="matrix(1 0 0 1.14 0 -7.42)">100</text>
</g>
<g style="color:#00cccc">
<text x="993.5" y="603" class="r" transform="matrix(1 0 0 1.14 0 -84.42)">0.0</text>
<text x="993.5" y="557" class="r" transform="matrix(1 0 0 1.14 0 -77.98)">10.0</text>
<text x="993.5" y="511" class="r" transform="matrix(1 0 0 1.14 0 -71.54)">20.0</text>
<text x="993.5" y="466" class="r" transform="matrix(1 0 0 1.14 0 -65.24)">30.0</text>
<text x="993.5" y="420" class="r" transform="matrix(1 0 0 1.14 0 -58.80)">40.0</text>
<text x="993.5" y="374" class="r" transform="matrix(1 0 0 1.14 0 -52.36)">50.0</text>
<text x="993.5" y="328" class="r" transform="matrix(1 0 0 1.14 0 -45.92)">60.0</text>
<text x="993.5" y="282" class="r" transform="matrix(1 0 0 1.14 0 -39.48)">70.0</text>
<text x="993.5" y="236" class="r" transform="matrix(1 0 0 1.14 0 -33.04)">80.0</text>
<text x="993.5" y="191" class="r" transform="matrix(1 0 0 1.14 0 -26.74)">90.0</text>
<text x="993.5" y="145" class="r" transform="matrix(1 0 0 1.14 0 -20.30)">100.0</text>
<text x="993.5" y="99" class="r" transform="matrix(1 0 0 1.14 0 -13.86)">110.0</text>
<text x="993.5" y="53" class="r" transform="matrix(1 0 0 1.14 0 -7.42)">120.0</text>
</g>
<g style="color:#000" text-anchor="middle">
<text x="77.5" y="617" class="r" transform="matrix(1 0 0 1.14 0 -86.38)">1</text>
<text x="107.5" y="617" class="r" transform="matrix(1 0 0 1.14 0 -86.38)">2</text>
<text x="138.5" y="617" class="r" transform="matrix(1 0 0 1.14 0 -86.38)">3</text>
<text x="168.5" y="617" class="r" transform="matrix(1 0 0 1.14 0 -86.38)">4</text>
<text x="198.5" y="617" class="r" transform="matrix(1 0 0 1.14 0 -86.38)">5</text>
<text x="229.5" y="617" class="r" transform="matrix(1 0 0 1.14 0 -86.38)">6</text>
<text x="259.5" y="617" class="r" transform="matrix(1 0 0 1.14 0 -86.38)">7</text>
<text x="289.5" y="617" class="r" transform="matrix(1 0 0 1.14 0 -86.38)">8</text>
<text x="320.5" y="617" class="r" transform="matrix(1 0 0 1.14 0 -86.38)">9</text>
<text x="350.5" y="617" class="r" transform="matrix(1 0 0 1.14 0 -86.38)">10</text>
<text x="380.5" y="617" class="r" transform="matrix(1 0 0 1.14 0 -86.38)">11</text>
<text x="411.5" y="617" class="r" transform="matrix(1 0 0 1.14 0 -86.38)">12</text>
<text x="441.5" y="617" class="r" transform="matrix(1 0 0 1.14 0 -86.38)">13</text>
<text x="471.5" y="617" class="r" transform="matrix(1 0 0 1.14 0 -86.38)">14</text>
<text x="502.5" y="617" class="r" transform="matrix(1 0 0 1.14 0 -86.38)">15</text>
<text x="532.5" y="617" class="r" transform="matrix(1 0 0 1.14 0 -86.38)">16</text>
<text x="562.5" y="617" class="r" transform="matrix(1 0 0 1.14 0 -86.38)">17</text>
<text x="593.5" y="617" class="r" transform="matrix(1 0 0 1.14 0 -86.38)">18</text>
<text x="623.5" y="617" class="r" transform="matrix(1 0 0 1.14 0 -86.38)">19</text>
<text x="653.5" y="617" class="r" transform="matrix(1 0 0 1.14 0 -86.38)">20</text>
<text x="684.5" y="617" class="r" transform="matrix(1 0 0 1.14 0 -86.38)">21</text>
<text x="714.5" y="617" class="r" transform="matrix(1 0 0 1.14 0 -86.38)">22</text>
<text x="744.5" y="617" class="r" transform="matrix(1 0 0 1.14 0 -86.38)">23</text>
<text x="775.5" y="617" class="r" transform="matrix(1 0 0 1.14 0 -86.38)">24</text>
<text x="805.5" y="617" class="r" transform="matrix(1 0 0 1.14 0 -86.38)">25</text>
<text x="835.5" y="617" class="r" transform="matrix(1 0 0 1.14 0 -86.38)">26</text>
<text x="866.5" y="617" class="r" transform="matrix(1 0 0 1.14 0 -86.38)">27</text>
<text x="896.5" y="617" class="r" transform="matrix(1 0 0 1.14 0 -86.38)">28</text>
<text x="926.5" y="617" class="r" transform="matrix(1 0 0 1.14 0 -86.38)">29</text>
<text x="957.5" y="617" class="r" transform="matrix(1 0 0 1.14 0 -86.38)">30</text>
<text x="987.5" y="617" class="r" transform="matrix(1 0 0 1.14 0 -86.38)">31</text>
</g>
<text x="18" y="37" style="color:#408080" class="r" transform="matrix(1 0 0 1.14 0 -5.18)">cb</text>
<text x="61.5" y="37" style="color:#ffcc66" class="r" transform="matrix(1 0 0 1.14 0 -5.18)">h</text>
<text x="987.5" y="37" style="color:#00cccc" textLength="16.5" lengthAdjust="spacingAndGlyphs" class="r" transform="matrix(1 0 0 1.14 0 -5.18)">mm</text>
<text x="478" y="21.3" font-size="15.4px" style="color:#000" textLength="72.5" lengthAdjust="spacingAndGlyphs" transform="matrix(1 0 0 1.07 0 -1.49)">juillet 2021</text>
<text x="1022.5" y="16" style="color:#ff0000" text-anchor="end" textLength="95" lengthAdjust="spacingAndGlyphs" class="r" transform="matrix(1 0 0 1.14 0 -2.24)">Deûlémont (F) - 16m</text>
<rect x="87.5" y="33.5" width="9" height="9" fill="#408080" stroke="#000" stroke-width="1" shape-rendering="crispEdges"/>
<text x="101" y="42" style="color:#408080" textLength="58" lengthAdjust="spacingAndGlyphs" class="r" transform="matrix(1 0 0 1.14 0 -5.88)">Hum. -10cm</text>
<rect x="182.5" y="33.5" width="9" height="9" fill="#0000ff" stroke="#000" stroke-width="1" shape-rendering="crispEdges"/>
<text x="196" y="42" style="color:#408080" textLength="58" lengthAdjust="spacingAndGlyphs" class="r" transform="matrix(1 0 0 1.14 0 -5.88)">Hum. -30cm</text>
<rect x="277.5" y="33.5" width="9" height="9" fill="#0000a0" stroke="#000" stroke-width="1" shape-rendering="crispEdges"/>
<text x="291" y="42" style="color:#408080" textLength="58" lengthAdjust="spacingAndGlyphs" class="r" transform="matrix(1 0 0 1.14 0 -5.88)">Hum. -50cm</text>
<rect x="372.5" y="33.5" width="9" height="9" fill="#00cccc" stroke="#000" stroke-width="1" shape-rendering="crispEdges"/>
<text x="386" y="42" style="color:#00cccc" textLength="23.5" lengthAdjust="spacingAndGlyphs" class="r" transform="matrix(1 0 0 1.14 0 -5.88)">Pluie</text>
<rect x="467.5" y="33.5" width="9" height="9" fill="#ffcc66" stroke="#000" stroke-width="1" shape-rendering="crispEdges"/>
<text x="481" y="42" style="color:#ffcc66" textLength="59" lengthAdjust="spacingAndGlyphs" class="r" transform="matrix(1 0 0 1.14 0 -5.88)">Ensoleilleme</text>
<g shape-rendering="crispEdges" fill="#000"><rect x="354" y="594" width="1" height="12"/><rect x="781" y="594" width="1" height="12"/></g>
<path d="M349 618h2v1h-1v1h-1zM360 618h-2v1h1v1h1zM349 629h2v-1h-1v-1h-1zM360 629h-2v-1h1v-1h1z" fill="#c8c8c8" shape-rendering="crispEdges"/>
<circle cx="354.5" cy="623.5" r="4.8" fill="#000"/><path d="M352.2 620.4Q350.6 623.5 352.2 626.6" fill="none" stroke="#fff" stroke-width="1"/>
<path d="M779 618.5h5l2.5 2.5v5l-2.5 2.5h-5l-2.5-2.5v-5z" fill="#e6e6e6" stroke="#000" stroke-width="1.2"/>
<rect x="1" y="638" width="1024" height="90" fill="#cefaf7"/>
<g shape-rendering="crispEdges"><rect x="1025" y="638" width="1" height="91" fill="#a0a0a0"/><rect x="1" y="728" width="1025" height="1" fill="#a0a0a0"/>
<rect x="87" y="638" width="1" height="89" fill="#fff"/><rect x="88" y="638" width="1" height="89" fill="#a0a0a0"/>
<rect x="204" y="638" width="1" height="89" fill="#fff"/><rect x="205" y="638" width="1" height="89" fill="#a0a0a0"/>
<rect x="322" y="638" width="1" height="89" fill="#fff"/><rect x="323" y="638" width="1" height="89" fill="#a0a0a0"/>
<rect x="440" y="638" width="1" height="89" fill="#fff"/><rect x="441" y="638" width="1" height="89" fill="#a0a0a0"/>
<rect x="558" y="638" width="1" height="89" fill="#fff"/><rect x="559" y="638" width="1" height="89" fill="#a0a0a0"/>
<rect x="676" y="638" width="1" height="89" fill="#fff"/><rect x="677" y="638" width="1" height="89" fill="#a0a0a0"/>
<rect x="794" y="638" width="1" height="89" fill="#fff"/><rect x="795" y="638" width="1" height="89" fill="#a0a0a0"/>
<rect x="912" y="638" width="1" height="89" fill="#fff"/><rect x="913" y="638" width="1" height="89" fill="#a0a0a0"/>
</g>
<g style="color:#000">
<text x="8.3" y="656" font-weight="bold" textLength="36" lengthAdjust="spacingAndGlyphs" class="b" transform="matrix(1 0 0 1.14 0 -91.84)">Sonde</text>
<text x="8.3" y="672" font-weight="bold" textLength="60" lengthAdjust="spacingAndGlyphs" class="b" transform="matrix(1 0 0 1.14 0 -94.08)">Valeur Min</text>
<text x="8.3" y="688" font-weight="bold" textLength="63" lengthAdjust="spacingAndGlyphs" class="b" transform="matrix(1 0 0 1.14 0 -96.32)">Valeur Max</text>
<text x="8.3" y="704" font-weight="bold" textLength="51" lengthAdjust="spacingAndGlyphs" class="b" transform="matrix(1 0 0 1.14 0 -98.56)">Moyenne</text>
<text x="8.3" y="720" font-weight="bold" textLength="38.5" lengthAdjust="spacingAndGlyphs" class="b" transform="matrix(1 0 0 1.14 0 -100.80)">31/07/</text>
<text x="94.5" y="656" font-weight="bold" textLength="60" lengthAdjust="spacingAndGlyphs" class="b" transform="matrix(1 0 0 1.14 0 -91.84)">Temp. Ext.</text>
<text x="198.5" y="656" text-anchor="end" font-weight="bold" textLength="13" lengthAdjust="spacingAndGlyphs" class="b" transform="matrix(1 0 0 1.14 0 -91.84)">°C</text>
<text x="94.5" y="672" textLength="34" lengthAdjust="spacingAndGlyphs" class="r" transform="matrix(1 0 0 1.14 0 -94.08)">11/07/</text>
<text x="134.5" y="672" class="r" transform="matrix(1 0 0 1.14 0 -94.08)">03:32</text>
<text x="198.5" y="672" text-anchor="end" class="r" transform="matrix(1 0 0 1.14 0 -94.08)">11.6</text>
<text x="94.5" y="688" textLength="34" lengthAdjust="spacingAndGlyphs" class="r" transform="matrix(1 0 0 1.14 0 -96.32)">21/07/</text>
<text x="134.5" y="688" class="r" transform="matrix(1 0 0 1.14 0 -96.32)">16:16</text>
<text x="198.5" y="688" text-anchor="end" class="r" transform="matrix(1 0 0 1.14 0 -96.32)">28.1</text>
<text x="198.5" y="704" text-anchor="end" class="r" transform="matrix(1 0 0 1.14 0 -98.56)">18.23</text>
<text x="198.5" y="720" text-anchor="end" font-weight="bold" textLength="24.5" lengthAdjust="spacingAndGlyphs" class="b" transform="matrix(1 0 0 1.14 0 -100.80)">17.8</text>
<text x="212.5" y="656" font-weight="bold" textLength="54" lengthAdjust="spacingAndGlyphs" class="b" transform="matrix(1 0 0 1.14 0 -91.84)">Hum. Ext.</text>
<text x="316.5" y="656" text-anchor="end" font-weight="bold" textLength="9" lengthAdjust="spacingAndGlyphs" class="b" transform="matrix(1 0 0 1.14 0 -91.84)">%</text>
<text x="212.5" y="672" textLength="34" lengthAdjust="spacingAndGlyphs" class="r" transform="matrix(1 0 0 1.14 0 -94.08)">23/07/</text>
<text x="252.5" y="672" class="r" transform="matrix(1 0 0 1.14 0 -94.08)">17:00</text>
<text x="316.5" y="672" text-anchor="end" class="r" transform="matrix(1 0 0 1.14 0 -94.08)">40</text>
<text x="212.5" y="688" textLength="34" lengthAdjust="spacingAndGlyphs" class="r" transform="matrix(1 0 0 1.14 0 -96.32)">11/07/</text>
<text x="252.5" y="688" class="r" transform="matrix(1 0 0 1.14 0 -96.32)">06:38</text>
<text x="316.5" y="688" text-anchor="end" class="r" transform="matrix(1 0 0 1.14 0 -96.32)">96</text>
<text x="316.5" y="704" text-anchor="end" class="r" transform="matrix(1 0 0 1.14 0 -98.56)">80</text>
<text x="215.5" y="720" class="r" transform="matrix(1 0 0 1.14 0 -100.80)">11.80 g/m³</text>
<text x="316.5" y="720" text-anchor="end" font-weight="bold" textLength="12.5" lengthAdjust="spacingAndGlyphs" class="b" transform="matrix(1 0 0 1.14 0 -100.80)">78</text>
<text x="330.5" y="656" font-weight="bold" textLength="28.5" lengthAdjust="spacingAndGlyphs" class="b" transform="matrix(1 0 0 1.14 0 -91.84)">Baro.</text>
<text x="434.5" y="656" text-anchor="end" font-weight="bold" textLength="21.5" lengthAdjust="spacingAndGlyphs" class="b" transform="matrix(1 0 0 1.14 0 -91.84)">hPa</text>
<text x="330.5" y="672" textLength="34" lengthAdjust="spacingAndGlyphs" class="r" transform="matrix(1 0 0 1.14 0 -94.08)">06/07/</text>
<text x="370.5" y="672" class="r" transform="matrix(1 0 0 1.14 0 -94.08)">04:24</text>
<text x="434.5" y="672" text-anchor="end" class="r" transform="matrix(1 0 0 1.14 0 -94.08)">999.6</text>
<text x="330.5" y="688" textLength="34" lengthAdjust="spacingAndGlyphs" class="r" transform="matrix(1 0 0 1.14 0 -96.32)">17/07/</text>
<text x="370.5" y="688" class="r" transform="matrix(1 0 0 1.14 0 -96.32)">09:38</text>
<text x="434.5" y="688" text-anchor="end" class="r" transform="matrix(1 0 0 1.14 0 -96.32)">1027.1</text>
<text x="434.5" y="704" text-anchor="end" class="r" transform="matrix(1 0 0 1.14 0 -98.56)">1014.6</text>
<text x="434.5" y="720" text-anchor="end" font-weight="bold" textLength="38" lengthAdjust="spacingAndGlyphs" class="b" transform="matrix(1 0 0 1.14 0 -100.80)">1008.8</text>
<text x="448.5" y="656" font-weight="bold" textLength="25.5" lengthAdjust="spacingAndGlyphs" class="b" transform="matrix(1 0 0 1.14 0 -91.84)">Vent</text>
<text x="552.5" y="656" text-anchor="end" font-weight="bold" textLength="28.5" lengthAdjust="spacingAndGlyphs" class="b" transform="matrix(1 0 0 1.14 0 -91.84)">km/h</text>
<text x="448.5" y="672" textLength="34" lengthAdjust="spacingAndGlyphs" class="r" transform="matrix(1 0 0 1.14 0 -94.08)">01/07/</text>
<text x="488.5" y="672" class="r" transform="matrix(1 0 0 1.14 0 -94.08)">22:02</text>
<text x="552.5" y="672" text-anchor="end" class="r" transform="matrix(1 0 0 1.14 0 -94.08)">0.0</text>
<text x="448.5" y="688" textLength="34" lengthAdjust="spacingAndGlyphs" class="r" transform="matrix(1 0 0 1.14 0 -96.32)">06/07/</text>
<clipPath id="c488"><rect x="480" y="674" width="33.5" height="20"/></clipPath><g clip-path="url(#c488)"><text x="488.5" y="688" class="r" transform="matrix(1 0 0 1.14 0 -96.32)">10:30</text></g>
<text x="551" y="688" text-anchor="end" textLength="37.5" lengthAdjust="spacingAndGlyphs" class="r" transform="matrix(1 0 0 1.14 0 -96.32)">SO 32.1</text>
<text x="448.5" y="704" class="r" transform="matrix(1 0 0 1.14 0 -98.56)">7262.9 km</text>
<text x="552.5" y="704" text-anchor="end" class="r" transform="matrix(1 0 0 1.14 0 -98.56)">5.2</text>
<text x="454.5" y="720" textLength="32.5" lengthAdjust="spacingAndGlyphs" class="r" transform="matrix(1 0 0 1.14 0 -100.80)">2 Bft O</text>
<text x="552.5" y="720" text-anchor="end" font-weight="bold" textLength="17.5" lengthAdjust="spacingAndGlyphs" class="b" transform="matrix(1 0 0 1.14 0 -100.80)">8.8</text>
<text x="566.5" y="656" font-weight="bold" textLength="42.5" lengthAdjust="spacingAndGlyphs" class="b" transform="matrix(1 0 0 1.14 0 -91.84)">Rafales</text>
<text x="670.5" y="656" text-anchor="end" font-weight="bold" textLength="28.5" lengthAdjust="spacingAndGlyphs" class="b" transform="matrix(1 0 0 1.14 0 -91.84)">km/h</text>
<text x="566.5" y="672" textLength="34" lengthAdjust="spacingAndGlyphs" class="r" transform="matrix(1 0 0 1.14 0 -94.08)">01/07/</text>
<text x="606.5" y="672" class="r" transform="matrix(1 0 0 1.14 0 -94.08)">22:02</text>
<text x="670.5" y="672" text-anchor="end" class="r" transform="matrix(1 0 0 1.14 0 -94.08)">0.0</text>
<text x="566.5" y="688" textLength="34" lengthAdjust="spacingAndGlyphs" class="r" transform="matrix(1 0 0 1.14 0 -96.32)">30/07/</text>
<clipPath id="c606"><rect x="600" y="674" width="32.5" height="20"/></clipPath><g clip-path="url(#c606)"><text x="606.5" y="688" class="r" transform="matrix(1 0 0 1.14 0 -96.32)">17:38</text></g>
<text x="670.5" y="688" text-anchor="end" textLength="38" lengthAdjust="spacingAndGlyphs" class="r" transform="matrix(1 0 0 1.14 0 -96.32)">SO 54.7</text>
<text x="566.5" y="704" class="r" transform="matrix(1 0 0 1.14 0 -98.56)">7262.9 km</text>
<text x="670.5" y="704" text-anchor="end" class="r" transform="matrix(1 0 0 1.14 0 -98.56)">9.8</text>
<text x="572.5" y="720" textLength="32.5" lengthAdjust="spacingAndGlyphs" class="r" transform="matrix(1 0 0 1.14 0 -100.80)">3 Bft O</text>
<text x="670.5" y="720" text-anchor="end" font-weight="bold" textLength="24.5" lengthAdjust="spacingAndGlyphs" class="b" transform="matrix(1 0 0 1.14 0 -100.80)">17.0</text>
<text x="684.5" y="656" font-weight="bold" textLength="51" lengthAdjust="spacingAndGlyphs" class="b" transform="matrix(1 0 0 1.14 0 -91.84)">Direction</text>
<text x="684.5" y="672" textLength="34" lengthAdjust="spacingAndGlyphs" class="r" transform="matrix(1 0 0 1.14 0 -94.08)">01/07/</text>
<text x="724.5" y="672" class="r" transform="matrix(1 0 0 1.14 0 -94.08)">10:22</text>
<text x="788" y="672" text-anchor="end" class="r" transform="matrix(1 0 0 1.14 0 -94.08)">N</text>
<text x="684.5" y="688" textLength="34" lengthAdjust="spacingAndGlyphs" class="r" transform="matrix(1 0 0 1.14 0 -96.32)">01/07/</text>
<text x="724.5" y="688" class="r" transform="matrix(1 0 0 1.14 0 -96.32)">14:52</text>
<text x="788" y="688" text-anchor="end" class="r" transform="matrix(1 0 0 1.14 0 -96.32)">N</text>
<text x="788" y="704" text-anchor="end" class="r" transform="matrix(1 0 0 1.14 0 -98.56)">SO</text>
<text x="687.5" y="720" class="r" transform="matrix(1 0 0 1.14 0 -100.80)">270 °</text>
<text x="788.5" y="720" text-anchor="end" font-weight="bold" textLength="8" lengthAdjust="spacingAndGlyphs" class="b" transform="matrix(1 0 0 1.14 0 -100.80)">O</text>
<text x="802.5" y="656" font-weight="bold" textLength="28" lengthAdjust="spacingAndGlyphs" class="b" transform="matrix(1 0 0 1.14 0 -91.84)">Pluie</text>
<text x="905.5" y="656" text-anchor="end" font-weight="bold" textLength="17.5" lengthAdjust="spacingAndGlyphs" class="b" transform="matrix(1 0 0 1.14 0 -91.84)">mm</text>
<text x="802.5" y="672" textLength="83.5" lengthAdjust="spacingAndGlyphs" class="r" transform="matrix(1 0 0 1.14 0 -94.08)">Jours de pluie: 14</text>
<text x="802.5" y="688" textLength="34" lengthAdjust="spacingAndGlyphs" class="r" transform="matrix(1 0 0 1.14 0 -96.32)">26/07/</text>
<text x="842.5" y="688" class="r" transform="matrix(1 0 0 1.14 0 -96.32)">05:44</text>
<text x="906.5" y="688" text-anchor="end" class="r" transform="matrix(1 0 0 1.14 0 -96.32)">45.6</text>
<text x="802.5" y="704" class="r" transform="matrix(1 0 0 1.14 0 -98.56)">Total:</text>
<text x="906.5" y="704" text-anchor="end" class="r" transform="matrix(1 0 0 1.14 0 -98.56)">117.6</text>
<text x="805.5" y="720" textLength="46" lengthAdjust="spacingAndGlyphs" class="r" transform="matrix(1 0 0 1.14 0 -100.80)">117.6 mm</text>
<text x="906.5" y="720" text-anchor="end" font-weight="bold" textLength="17.5" lengthAdjust="spacingAndGlyphs" class="b" transform="matrix(1 0 0 1.14 0 -100.80)">0.0</text>
</g>
</svg>
</body></html>
